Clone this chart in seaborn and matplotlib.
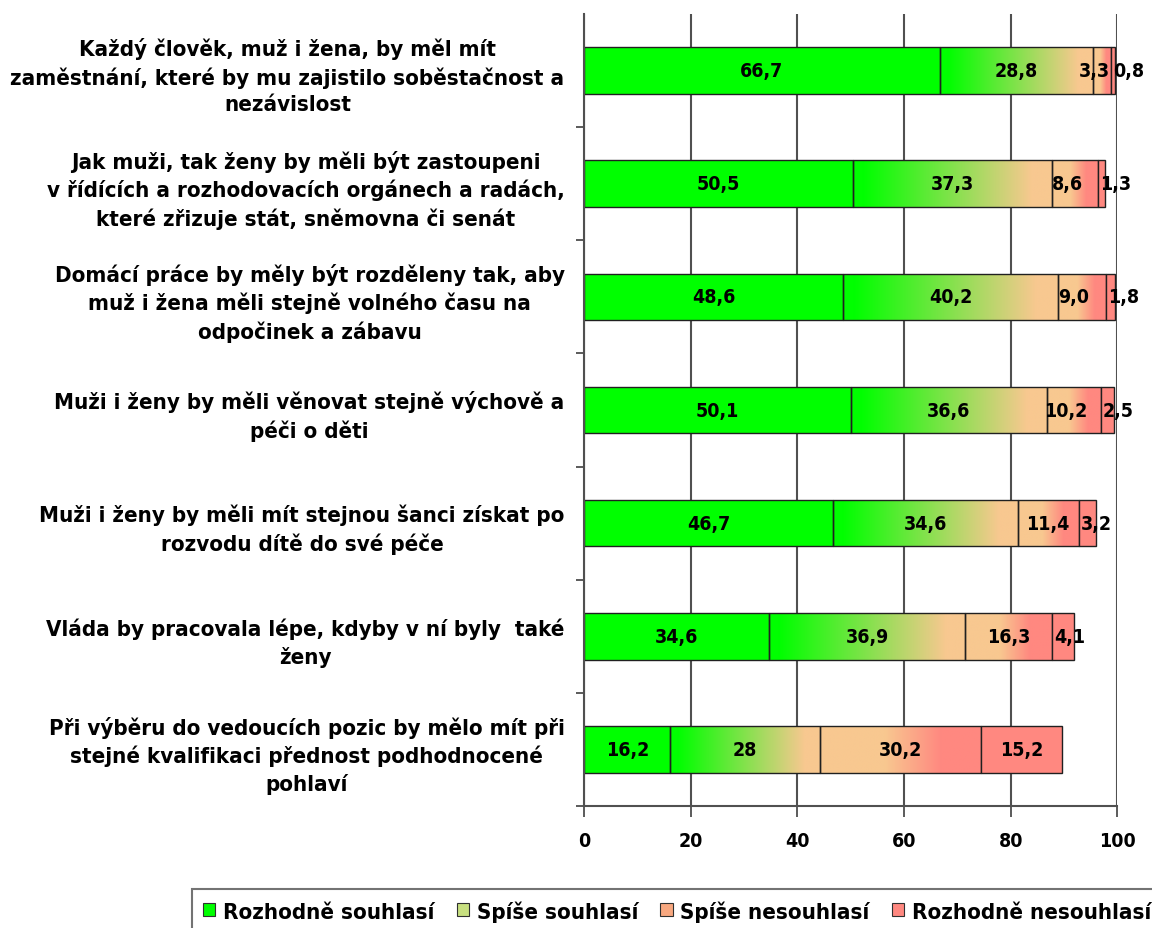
import numpy as np
import pandas as pd
import matplotlib
matplotlib.use("Agg")
import matplotlib.pyplot as plt
import seaborn as sns
from matplotlib.colors import to_rgb
from matplotlib.patches import Patch

# data
statements = [
    "Každý člověk, muž i žena, by měl mít\nzaměstnání, které by mu zajistilo soběstačnost a\nnezávislost",
    "Jak muži, tak ženy by měli být zastoupeni\nv řídících a rozhodovacích orgánech a radách,\nkteré zřizuje stát, sněmovna či senát",
    "Domácí práce by měly být rozděleny tak, aby\nmuž i žena měli stejně volného času na\nodpočinek a zábavu",
    "Muži i ženy by měli věnovat stejně výchově a\npéči o děti",
    "Muži i ženy by měli mít stejnou šanci získat po\nrozvodu dítě do své péče",
    "Vláda by pracovala lépe, kdyby v ní byly  také\nženy",
    "Při výběru do vedoucích pozic by mělo mít při\nstejné kvalifikaci přednost podhodnocené\npohlaví",
]
rozhodne_souhlasi = [66.7, 50.5, 48.6, 50.1, 46.7, 34.6, 16.2]
spise_souhlasi = [28.8, 37.3, 40.2, 36.6, 34.6, 36.9, 28.0]
spise_nesouhlasi = [3.3, 8.6, 9.0, 10.2, 11.4, 16.3, 30.2]
rozhodne_nesouhlasi = [0.8, 1.3, 1.8, 2.5, 3.2, 4.1, 15.2]
value_labels = [
    ["66,7", "28,8", "3,3", "0,8"],
    ["50,5", "37,3", "8,6", "1,3"],
    ["48,6", "40,2", "9,0", "1,8"],
    ["50,1", "36,6", "10,2", "2,5"],
    ["46,7", "34,6", "11,4", "3,2"],
    ["34,6", "36,9", "16,3", "4,1"],
    ["16,2", "28", "30,2", "15,2"],
]
series_names = ["Rozhodně souhlasí", "Spíše souhlasí", "Spíše nesouhlasí", "Rozhodně nesouhlasí"]
x_ticks = [0, 20, 40, 60, 80, 100]

df = pd.DataFrame({
    "statement": statements,
    series_names[0]: rozhodne_souhlasi,
    series_names[1]: spise_souhlasi,
    series_names[2]: spise_nesouhlasi,
    series_names[3]: rozhodne_nesouhlasi,
})

GREEN = "#00ff00"
TAN = "#f8c890"
SALMON = "#ff8880"
# (start colour, end colour, ramp start, ramp end) as fraction of segment width
fills = [
    (GREEN, GREEN, 0.0, 1.0),
    (GREEN, TAN, 0.05, 0.9),
    (TAN, SALMON, 0.4, 0.75),
    (SALMON, SALMON, 0.0, 1.0),
]
legend_colors = [GREEN, "#c8e080", "#f8a880", SALMON]

sns.set_style("white")
plt.rcParams["font.family"] = ["DejaVu Sans"]
plt.rcParams["font.stretch"] = "condensed"
plt.rcParams["font.weight"] = "bold"
plt.rcParams["text.color"] = "black"
plt.rcParams["xtick.labelcolor"] = "black"
plt.rcParams["ytick.labelcolor"] = "black"
FS = 14

fig = plt.figure(figsize=(11.52, 9.29), dpi=100)
ax = fig.add_axes([0.507, 0.131, 0.463, 0.853])

left = np.zeros(len(df))
for name, (c0, c1, r0, r1) in zip(series_names, fills):
    n_before = len(ax.patches)
    sns.barplot(data=df, x=name, y="statement", orient="h", left=left,
                color=c0, width=0.41, edgecolor="#202020", linewidth=1.0,
                saturation=1, ax=ax, zorder=2)
    new_patches = ax.patches[n_before:]
    if c0 != c1:
        t = np.linspace(0, 1, 256)
        ramp = np.clip((t - r0) / (r1 - r0), 0, 1)
        a, b = np.array(to_rgb(c0)), np.array(to_rgb(c1))
        img = (a[None, :] * (1 - ramp[:, None]) + b[None, :] * ramp[:, None])[None, :, :]
        for p in new_patches:
            x0, y0 = p.get_x(), p.get_y()
            w, h = p.get_width(), p.get_height()
            p.set_facecolor("none")
            im = ax.imshow(img, extent=(x0, x0 + w, y0 + h, y0), aspect="auto",
                           interpolation="bilinear", zorder=1.5)
            im.set_clip_path(p)
    left = left + df[name].to_numpy()

# value labels, centred in each segment; narrow end segments get nudged like Excel does
starts = np.zeros(len(df))
last = df[series_names[3]].to_numpy()
for j, name in enumerate(series_names):
    vals = df[name].to_numpy()
    for i, v in enumerate(vals):
        x, ha = starts[i] + v / 2, "center"
        if j == 3 and v < 6:
            x, ha = starts[i] + 0.4, "left"
        elif j == 2 and last[i] < 3:
            x = x - 1.5
        ax.text(x, i, value_labels[i][j], ha=ha, va="center",
                fontsize=FS, fontweight="bold", color="black", zorder=3)
    starts = starts + vals

ax.set_xlim(0, 100)
ax.set_ylim(len(df) - 0.5, -0.5)
ax.set_xticks(x_ticks)
ax.set_xticklabels([str(t) for t in x_ticks], fontsize=FS, fontweight="bold")
ax.set_yticks(range(len(df)))
ax.set_yticklabels(statements, fontsize=16, fontweight="bold", multialignment="center",
                   linespacing=1.4)
ax.set_yticks(np.arange(len(df)) + 0.5, minor=True)
ax.tick_params(axis="y", which="major", length=0, pad=14)
ax.tick_params(axis="y", which="minor", length=6, width=1.2, color="#404040", direction="out", left=True)
ax.tick_params(axis="x", length=8, width=1.2, color="#404040", direction="out", bottom=True, pad=10)
ax.set_xlabel("")
ax.set_ylabel("")

ax.set_axisbelow(True)
ax.xaxis.grid(True, color="#505050", linewidth=1.5)
ax.yaxis.grid(False)
for side in ["top", "right"]:
    ax.spines[side].set_visible(False)
for side in ["left", "bottom"]:
    ax.spines[side].set_color("#505050")
    ax.spines[side].set_linewidth(1.5)

handles = [Patch(facecolor=c, edgecolor="#303030", linewidth=0.8) for c in legend_colors]
leg = fig.legend(handles, series_names, loc="upper left", bbox_to_anchor=(192 / 1152, 1 - 890 / 929),
                 ncol=4, frameon=True, fancybox=False, edgecolor="#505050",
                 handlelength=0.55, handleheight=0.55, handletextpad=0.35, columnspacing=1.0,
                 borderpad=0.5, borderaxespad=0.0,
                 prop={"weight": "bold", "size": 16, "stretch": "condensed"})
leg.get_frame().set_linewidth(1.5)

fig.savefig("out.png", dpi=100)
